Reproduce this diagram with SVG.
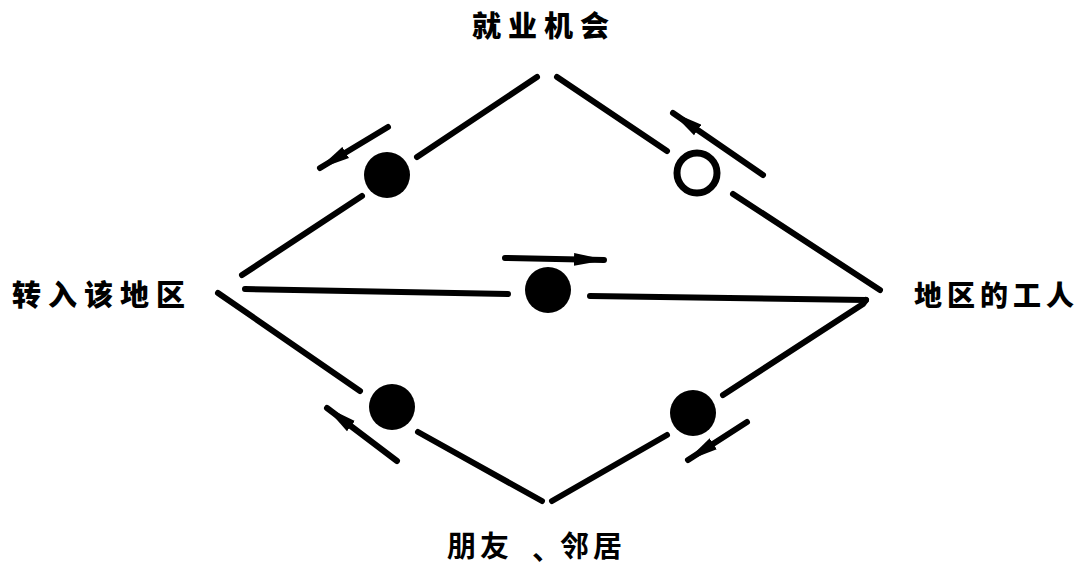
<svg xmlns="http://www.w3.org/2000/svg" width="1092" height="568" viewBox="0 0 1092 568">
<style>
.ln{stroke:#000;stroke-width:6;stroke-linecap:round;fill:none}
.ar{stroke:#000;stroke-width:6;stroke-linecap:round;fill:none;marker-end:url(#ah)}
.lb{font-family:"Noto Sans CJK SC","Noto Sans CJK JP",sans-serif;font-size:29px;font-weight:900;fill:#000;letter-spacing:7px}
.lb2{font-family:"Noto Sans CJK SC","Noto Sans CJK JP",sans-serif;font-size:29px;font-weight:700;fill:#000}
</style>
<defs>
<marker id="ah" viewBox="0 0 32 14" refX="30" refY="7" markerWidth="32" markerHeight="14" markerUnits="userSpaceOnUse" orient="auto">
<path d="M0,0.5 L32,7 L0,13.5 Z" fill="#000"/>
</marker>
</defs>
<rect width="1092" height="568" fill="#fff"/>
<g id="connectors">
<line class="ln" x1="537" y1="77" x2="417" y2="157"/>
<line class="ln" x1="362" y1="196" x2="242" y2="275"/>
<line class="ln" x1="557" y1="77" x2="667" y2="151"/>
<line class="ln" x1="733" y1="194" x2="880" y2="290"/>
<line class="ln" x1="245" y1="289" x2="508" y2="294"/>
<line class="ln" x1="590" y1="296" x2="866" y2="300"/>
<path class="ln" d="M866,300 L863,304 L723,395"/>
<line class="ln" x1="218" y1="293" x2="360" y2="391"/>
<line class="ln" x1="418" y1="432" x2="542" y2="501"/>
<line class="ln" x1="667" y1="435" x2="552" y2="501"/>
<line class="ar" x1="388" y1="127" x2="320" y2="168"/>
<line class="ar" x1="763" y1="175" x2="673" y2="113"/>
<line class="ar" x1="505" y1="258" x2="604" y2="260"/>
<line class="ar" x1="397" y1="461" x2="327" y2="408"/>
<line class="ar" x1="747" y1="422" x2="688" y2="460"/>
</g>
<g id="node-c1"><circle cx="387" cy="175" r="23" fill="#000"/></g>
<g id="node-c2"><circle cx="697" cy="173" r="20" fill="#fff" stroke="#000" stroke-width="7"/></g>
<g id="node-c3"><circle cx="548" cy="290" r="23" fill="#000"/></g>
<g id="node-c4"><circle cx="392" cy="407" r="23" fill="#000"/></g>
<g id="node-c5"><circle cx="693" cy="413" r="23" fill="#000"/></g>
<g id="node-top"><text class="lb" x="472" y="37">就业机会</text></g>
<g id="node-left"><text class="lb" x="12" y="306">转入该地区</text></g>
<g id="node-right"><text class="lb" x="914" y="306" style="font-size:28px;letter-spacing:5px">地区的工人</text></g>
<g id="node-bottom">
<text class="lb2" x="447" y="557" letter-spacing="4">朋友</text>
<text class="lb2" x="532" y="560">、</text>
<text class="lb2" x="560" y="557" letter-spacing="4">邻居</text>
</g>
</svg>
